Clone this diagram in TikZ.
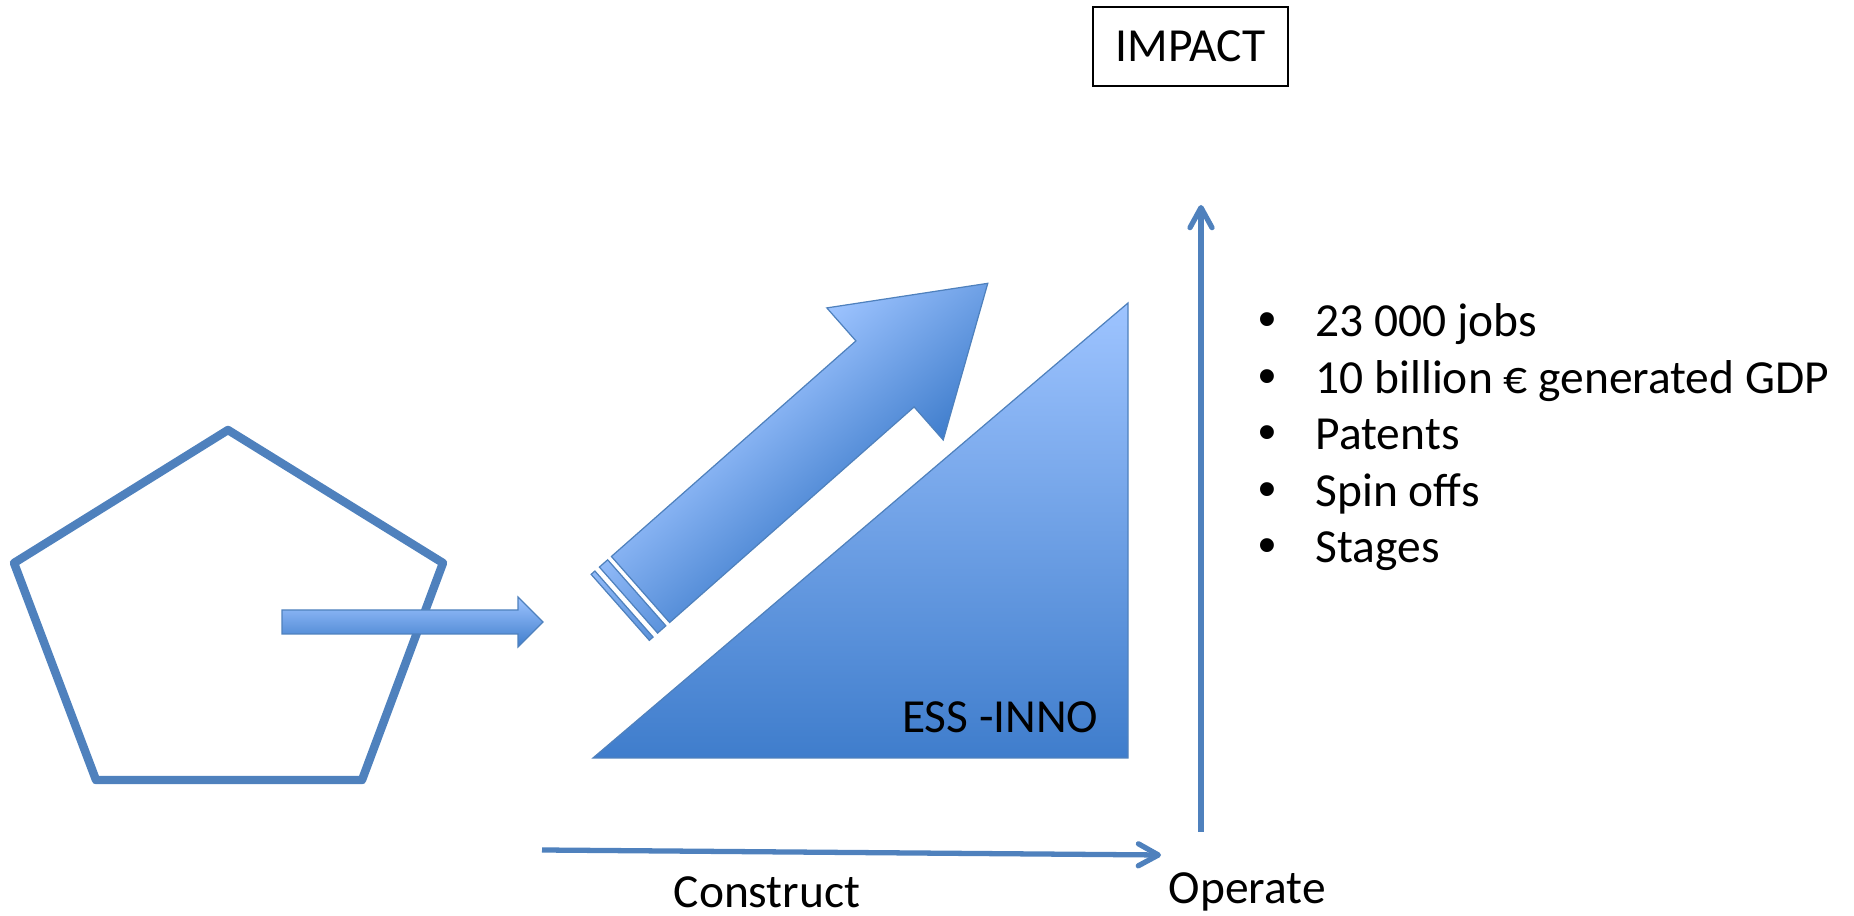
\documentclass[tikz,border=0pt]{standalone}
\usepackage{fontspec}
\setmainfont{Carlito}
\newfontfamily\bulletfont{Liberation Sans}
\usetikzlibrary{arrows.meta,positioning,calc}
\definecolor{essblue}{HTML}{4F81BD}
\definecolor{esslight}{HTML}{9EC4FF}
\definecolor{essdark}{HTML}{3F7DCC}
\tikzset{
    outline/.style={draw=essblue, line width=0.35pt, line join=miter},
    block/.style={outline, top color=esslight, bottom color=essdark},
    stripe/.style={outline, top color=esslight!85!essdark, bottom color=esslight!30!essdark},
    axis/.style={draw=essblue, line width=1.5pt, -{Straight Barb[length=2mm, width=2.2mm, round]}},
    lbl/.style={inner sep=0pt, font=\fontsize{13.5}{16}\selectfont}
}

\begin{document}
\begin{tikzpicture}[x=0.01cm, y=0.01cm]
    \useasboundingbox (0,0) rectangle (1854,-916);

    % pentagon
    \draw[essblue, line width=2.4pt, line join=round]
        (228,-430) -- (443,-563) -- (362,-780) -- (96,-780) -- (14,-563) -- cycle;

    % small arrow out of the pentagon
    \shade[block] (282,-610) -- (518,-610) -- (518,-597) -- (543,-622)
        -- (518,-647) -- (518,-634) -- (282,-634) -- cycle;

    % rising arrow
    \begin{scope}[transform canvas={shift={(640.5,-589.5)}, rotate=41.4}]
        \shade[block] (0,44) -- (326,44) -- (326,88) -- (463,0)
            -- (326,-88) -- (326,-44) -- (0,-44) -- cycle;
        \shade[stripe] (-16,44) -- (-5,44) -- (-5,-44) -- (-16,-44) -- cycle;
        \shade[stripe] (-27,44) -- (-22,44) -- (-22,-44) -- (-27,-44) -- cycle;
    \end{scope}

    % triangle
    \shade[block] (593,-758) -- (1128,-303) -- (1128,-758) -- cycle;
    \node[lbl, anchor=base east] (inno) at (1099,-733) {ESS -INNO};

    % axes
    \coordinate (start) at (542,-850);
    \coordinate (end) at (1161,-855);
    \coordinate (base) at (1201,-832);
    \coordinate (top) at (1201,-205);
    \draw[axis] (start) -- (end);
    \draw[axis] (base) -- (top);

    \node[lbl, anchor=base west] (construct) at (673,-908) {Construct};
    \node[lbl, anchor=base west] (operate) at (1168,-903) {Operate};
    \node[lbl, draw, line width=0.7pt, minimum width=1.95cm, minimum height=0.79cm]
        (impact) at (1190.5,-46.5) {IMPACT};

    % list
    \foreach \txt [count=\i] in {23 000 jobs, 10 billion € generated GDP, Patents, Spin offs, Stages} {
        \node[lbl, anchor=base, font=\fontsize{14.5}{16}\bulletfont] (dot\i) at (1267,{-337-56.5*(\i-1)}) {•};
        \node[lbl, anchor=base west] (item\i) at (1315,{-337-56.5*(\i-1)}) {\txt};
    }
\end{tikzpicture}
\end{document}
